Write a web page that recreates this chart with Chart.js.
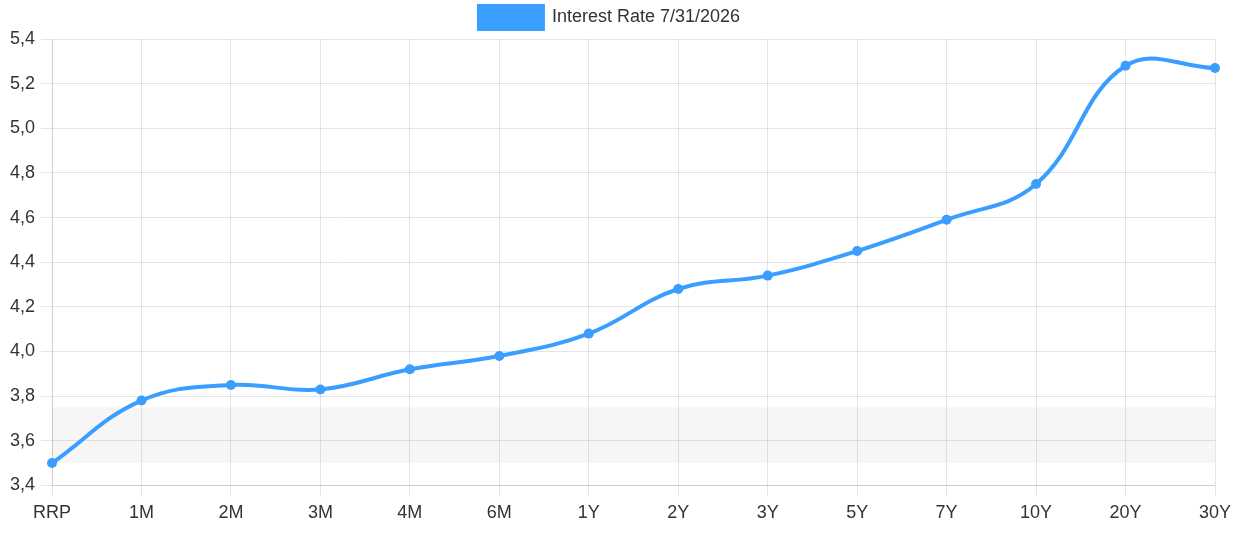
<!DOCTYPE html>
<html>
<head>
<meta charset="utf-8">
<script src="https://cdn.jsdelivr.net/npm/chart.js@4"></script>
<style>
  html, body { margin: 0; padding: 0; background: #fff; }
  #wrap { width: 1246px; height: 540px; }
</style>
</head>
<body>
<div id="wrap"><canvas id="chart-line"></canvas></div>
<script>
const labels = ["RRP", "1M", "2M", "3M", "4M", "6M", "1Y", "2Y", "3Y", "5Y", "7Y", "10Y", "20Y", "30Y"];
const rates = [3.50, 3.78, 3.85, 3.83, 3.92, 3.98, 4.08, 4.28, 4.34, 4.45, 4.59, 4.75, 5.28, 5.27];
const bandRange = [3.50, 3.75];
const seriesName = "Interest Rate 7/31/2026";

// shaded band behind the line
const bandPlugin = {
  id: "band",
  beforeDatasetsDraw(chart) {
    const { ctx, chartArea, scales } = chart;
    const top = scales.y.getPixelForValue(bandRange[1]);
    const bottom = scales.y.getPixelForValue(bandRange[0]);
    ctx.save();
    ctx.fillStyle = "rgba(0,0,0,0.035)";
    ctx.fillRect(chartArea.left, top, chartArea.right - chartArea.left, bottom - top);
    ctx.restore();
  }
};

const font = { size: 18, family: "'Liberation Sans', Arial, sans-serif" };

var ctx = document.getElementById("chart-line").getContext("2d");
new Chart(ctx, {
  type: "line",
  data: {
    labels: labels,
    datasets: [{
      label: seriesName,
      data: rates,
      borderColor: "#399eff",
      backgroundColor: "#399eff",
      borderWidth: 4,
      pointRadius: 5,
      pointBackgroundColor: "#399eff",
      pointBorderWidth: 0,
      tension: 0.4,
      fill: false
    }]
  },
  options: {
    responsive: true,
    maintainAspectRatio: false,
    animation: false,
    layout: { padding: { left: 4, right: 31, top: 2, bottom: 10 } },
    plugins: {
      legend: {
        display: true,
        labels: {
          boxWidth: 64,
          boxHeight: 23,
          color: "#333",
          font: font,
          padding: 4
        }
      },
      tooltip: { enabled: false }
    },
    scales: {
      y: {
        min: 3.4,
        max: 5.4,
        ticks: {
          stepSize: 0.2,
          color: "#333",
          padding: 6,
          font: font,
          callback: (v) => v.toFixed(1).replace(".", ",")
        },
        grid: { color: "rgba(0,0,0,0.1)", tickLength: 11 }
      },
      x: {
        ticks: {
          color: "#333",
          padding: 6,
          font: font
        },
        grid: { color: "rgba(0,0,0,0.1)", tickLength: 11 }
      }
    }
  },
  plugins: [bandPlugin]
});
</script>
</body>
</html>
